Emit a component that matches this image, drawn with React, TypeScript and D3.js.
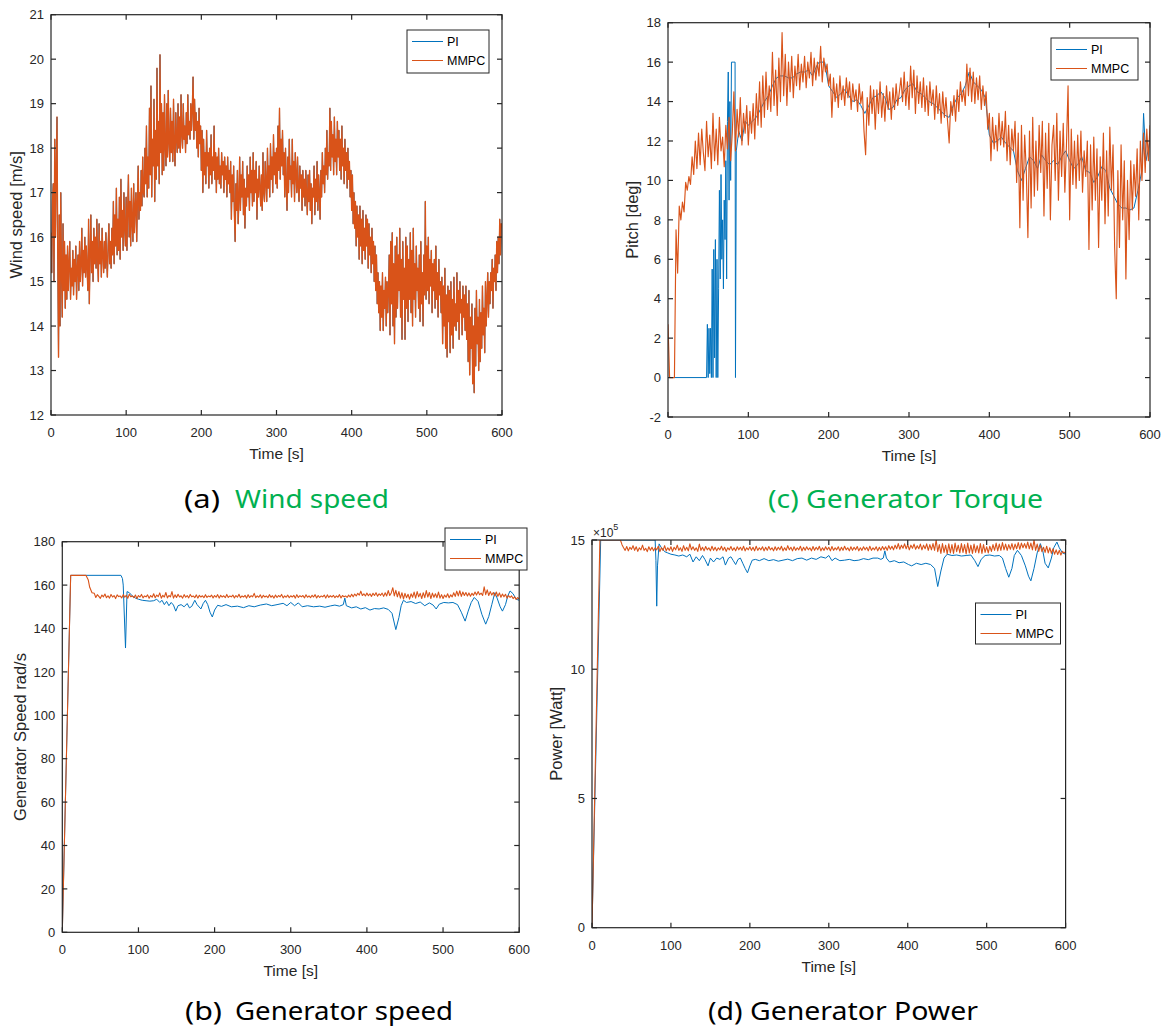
import React from 'react';
import * as d3 from 'd3';

type Pt = [number, number];

const PI_COLOR = '#0072BD';
const MMPC_COLOR = '#D95319';
const AXIS_COLOR = '#262626';
const CAPTION_GREEN = '#00B050';
const FONT = '"Liberation Sans", Arial, Helvetica, sans-serif';
const CAPTION_FONT = '"Noto Sans", "Open Sans", sans-serif';

const timeTicks = [0, 100, 200, 300, 400, 500, 600];
const seriesNames = ['PI', 'MMPC'];

// (a) wind speed [m/s], one sample per second from t = 0 (PI and MMPC coincide)
const windStart = 0;
const windStep = 1;
const windSpeed = [
  16.1, 15.2, 16.8, 17.2, 15.0, 18.2, 16.0, 17.5, 18.7, 15.5,
  13.3, 16.5, 14.0, 17.0, 15.2, 14.2, 16.3, 14.8, 15.9, 14.4,
  15.6, 14.6, 15.8, 14.8, 15.4, 15.9, 14.6, 15.3, 14.9, 15.7,
  14.7, 15.5, 15.0, 15.8, 14.6, 15.3, 15.6, 14.8, 15.9, 15.0,
  15.4, 16.2, 14.9, 15.7, 15.2, 16.0, 15.1, 15.8, 15.3, 14.8,
  16.4, 14.5, 15.6, 16.5, 15.2, 15.9, 15.0, 16.2, 15.4, 16.0,
  15.3, 16.4, 15.5, 15.0, 16.3, 15.4, 15.9, 15.1, 16.2, 15.6,
  15.2, 15.9, 15.3, 16.1, 15.5, 15.1, 15.8, 16.3, 15.4, 15.9,
  15.3, 16.2, 15.6, 16.8, 15.4, 16.5, 15.8, 17.1, 15.6, 16.4,
  15.7, 16.9, 15.5, 17.3, 16.0, 16.6, 15.7, 17.0, 16.2, 15.8,
  16.9, 15.7, 16.6, 17.4, 16.0, 16.8, 15.8, 17.1, 16.3, 15.9,
  17.2, 16.1, 16.7, 17.0, 15.9, 16.8, 17.6, 16.4, 17.0, 16.6,
  17.5, 16.7, 17.8, 17.0, 16.9, 18.0, 17.2, 18.5, 16.9, 17.8,
  17.1, 18.9, 17.4, 19.4, 16.9, 18.2, 17.6, 19.1, 16.8, 18.4,
  17.3, 19.8, 17.6, 18.6, 17.2, 20.1, 17.9, 19.0, 17.4, 18.8,
  17.5, 19.2, 18.0, 17.6, 19.0, 17.8, 19.3, 18.1, 17.7, 18.9,
  17.9, 18.6, 17.7, 19.1, 18.0, 17.6, 18.8, 18.2, 17.9, 19.0,
  18.0, 18.7, 17.9, 19.2, 18.3, 18.0, 19.0, 18.2, 18.5, 17.9,
  18.8, 18.1, 19.2, 18.3, 18.6, 18.2, 19.0, 18.4, 18.9, 19.6,
  18.2, 19.1, 18.4, 18.8, 18.0, 18.6, 17.8, 18.9, 18.1, 18.5,
  17.5, 18.4, 17.0, 18.2, 17.4, 17.9, 17.2, 18.4, 17.6, 17.9,
  17.1, 18.0, 17.4, 18.3, 17.2, 17.8, 17.5, 18.5, 17.3, 17.9,
  17.0, 17.8, 17.3, 18.0, 17.2, 17.6, 17.1, 17.9, 17.4, 17.7,
  17.0, 17.8, 17.3, 17.6, 16.9, 17.8, 17.2, 17.5, 17.0, 17.7,
  16.4, 17.4, 16.8, 17.6, 16.5, 15.9, 17.2, 16.6, 17.5, 16.3,
  16.8, 17.8, 16.6, 17.4, 16.9, 17.7, 16.5, 17.3, 16.2, 17.1,
  16.7, 17.6, 16.9, 17.4, 16.6, 17.8, 17.0, 17.5, 16.7, 17.9,
  16.8, 17.5, 17.0, 17.7, 16.4, 17.3, 16.9, 17.6, 17.1, 16.7,
  17.4, 16.6, 17.9, 17.0, 16.8, 17.7, 17.2, 16.8, 18.0, 17.1,
  17.6, 16.9, 18.1, 17.3, 17.8, 17.0, 18.3, 17.4, 17.9, 17.2,
  18.0, 17.1, 18.5, 17.5, 18.9, 17.3, 18.2, 17.6, 18.4, 17.4,
  17.9, 16.9, 18.0, 17.2, 16.6, 17.8, 17.0, 18.2, 17.3, 17.6,
  16.9, 18.2, 17.2, 17.7, 16.8, 17.9, 17.4, 17.0, 17.8, 17.1,
  16.8, 17.6, 17.1, 17.4, 16.6, 17.5, 16.9, 17.3, 16.7, 17.5,
  17.0, 16.5, 17.4, 16.8, 17.5, 16.6, 17.2, 16.3, 17.1, 16.9,
  17.6, 16.5, 17.3, 16.8, 17.7, 16.6, 17.4, 17.0, 16.4, 17.5,
  16.9, 17.9, 17.2, 17.6, 17.0, 18.0, 17.4, 18.4, 17.3, 17.9,
  17.6, 18.9, 17.5, 18.6, 17.8, 18.3, 17.4, 18.7, 17.7, 18.2,
  17.4, 18.6, 17.8, 18.4, 17.5, 18.2, 17.3, 18.5, 17.6, 18.0,
  17.2, 18.2, 17.5, 17.9, 17.1, 18.0, 17.3, 17.7, 16.9, 17.5,
  16.6, 17.4, 16.3, 17.0, 16.2, 16.8, 15.8, 16.7, 16.0, 16.5,
  15.5, 16.7, 15.8, 16.4, 15.4, 16.6, 15.7, 16.2, 15.5, 16.5,
  15.8, 16.4, 15.3, 16.3, 15.6, 16.0, 15.2, 16.2, 15.4, 15.9,
  15.0, 15.8, 14.8, 15.6, 14.5, 15.2, 14.3, 15.0, 13.9, 14.9,
  14.2, 15.2, 13.9, 14.8, 14.4, 15.1, 14.0, 15.0, 14.3, 14.8,
  15.6, 13.8, 15.9, 14.5, 16.1, 14.0, 15.4, 13.6, 15.8, 14.2,
  16.0, 14.4, 15.6, 14.8, 16.2, 14.2, 15.5, 13.7, 15.9, 14.6,
  15.3, 13.7, 16.0, 14.4, 15.8, 14.1, 15.5, 14.6, 16.1, 14.3,
  15.7, 14.0, 16.2, 14.6, 15.4, 14.2, 15.8, 14.8, 15.3, 14.4,
  15.6, 14.1, 15.9, 14.5, 15.2, 14.0, 15.6, 14.7, 16.8, 14.6,
  15.8, 14.8, 16.0, 14.5, 15.5, 14.9, 15.7, 14.3, 15.4, 14.8,
  15.5, 14.4, 15.8, 14.6, 15.2, 14.2, 15.5, 14.7, 15.0, 14.3,
  15.1, 13.6, 14.9, 14.0, 15.3, 13.5, 14.7, 13.3, 14.9, 14.1,
  14.8, 13.4, 15.0, 13.8, 14.6, 13.5, 15.1, 14.0, 14.5, 13.9,
  15.2, 14.1, 14.8, 13.7, 15.0, 14.3, 14.6, 13.8, 14.9, 14.2,
  14.7, 13.9, 14.9, 13.7, 14.5, 13.2, 14.8, 12.9, 14.2, 13.5,
  14.5, 12.7, 14.0, 12.5, 14.4, 13.1, 14.8, 13.6, 14.2, 13.0,
  14.6, 13.2, 14.3, 13.5, 14.9, 13.8, 14.4, 13.4, 15.0, 14.0,
  14.6, 15.2, 14.2, 15.0, 14.5, 15.2, 14.8, 15.5, 14.4, 15.3,
  15.0, 15.6, 14.8, 15.9, 15.2, 16.0, 15.4, 16.4, 15.6, 16.3,
  16.2,
];

// (c) pitch [deg], MMPC every 2 s
const pitchStart = 0;
const pitchStep = 2;
const pitchMmpc = [
  2.7, 0, 0, 0, 0, 7.5, 5.3, 8.7, 8.0, 8.9,
  8.4, 9.9, 9.5, 10.2, 9.8, 11.2, 10.3, 12.0, 10.6, 12.4,
  10.8, 12.6, 11.4, 10.5, 13.0, 11.2, 12.3, 10.6, 13.4, 11.0,
  12.6, 10.8, 13.2, 11.5, 12.2, 10.7, 12.8, 11.6, 13.2, 11.0,
  12.4, 14.5, 11.5, 13.6, 12.2, 14.2, 11.8, 13.4, 12.4, 13.8,
  11.8, 13.5, 12.4, 13.9, 12.1, 14.4, 12.8, 15.0, 12.7, 15.3,
  13.2, 15.5, 13.6, 14.8, 13.5, 16.5, 13.8, 15.6, 13.3, 16.2,
  14.0, 17.5, 14.3, 16.4, 13.8, 16.0, 14.5, 16.3, 14.2, 15.8,
  14.8, 16.4, 14.6, 15.9, 15.0, 16.3, 14.7, 16.0, 15.2, 16.5,
  14.8, 16.2, 15.1, 16.0, 15.3, 16.8, 15.0, 16.2, 15.5, 15.9,
  14.8, 15.4, 13.2, 15.2, 14.0, 14.9, 13.7, 15.3, 14.1, 14.8,
  13.8, 15.2, 14.2, 15.0, 13.6, 14.9, 14.0, 14.6, 13.5, 14.9,
  13.9, 14.5, 12.5, 11.3, 14.2, 12.8, 14.8, 13.4, 14.6, 12.6,
  14.6, 13.4, 15.0, 13.2, 14.4, 13.0, 14.8, 13.6, 14.5, 13.1,
  14.7, 13.6, 14.9, 13.8, 14.5, 15.2, 14.0, 15.5, 13.8, 15.0,
  13.6, 15.8, 14.2, 15.6, 13.4, 15.3, 13.9, 15.0, 13.7, 15.2,
  13.5, 14.8, 13.3, 15.0, 13.8, 14.6, 13.1, 14.8, 13.4, 14.4,
  12.9, 14.5, 13.2, 14.2, 13.0, 11.9, 14.0, 13.3, 14.3, 13.0,
  14.6, 13.5, 15.0, 14.0, 14.6, 13.8, 15.9, 14.3, 15.7, 14.0,
  15.5, 13.9, 15.2, 14.1, 15.3, 13.6, 14.8, 13.8, 14.5, 12.6,
  13.4, 11.0, 13.2, 11.6, 12.8, 11.5, 13.4, 11.8, 13.0, 11.7,
  13.5, 11.0, 12.8, 10.8, 12.6, 11.5, 13.0, 9.9, 12.4, 7.6,
  12.8, 9.0, 12.3, 10.5, 7.1, 12.5, 8.6, 13.2, 9.2, 12.0,
  9.5, 12.8, 10.4, 13.0, 8.2, 12.4, 9.6, 12.9, 8.0, 11.8,
  12.8, 10.0, 13.4, 9.0, 12.5, 10.2, 12.9, 9.4, 11.8, 14.8,
  8.0, 12.6, 9.8, 12.0, 9.6, 12.3, 10.0, 12.5, 9.4, 11.5,
  10.2, 12.0, 6.5, 11.8, 8.5, 12.2, 9.0, 11.6, 6.6, 11.2,
  9.0, 12.4, 7.8, 11.5, 8.2, 12.7, 9.5, 11.8, 6.6, 4.0,
  10.5, 6.6, 11.8, 8.0, 11.0, 5.0, 10.0, 7.0, 11.0, 8.5,
  10.8, 9.2, 11.6, 8.0, 12.0, 10.0, 12.4, 10.4, 12.6, 11.0,
  12.8,
];

// (c) pitch [deg], PI as [time, value]
const pitchPi: Pt[] = [
  [0, 0], [48, 0], [49, 2.7], [50, 0], [51, 2.5], [52, 0.2], [53, 2.5], [54, 0], [55, 5.5],
  [56, 0], [57, 6.5], [58, 1], [59, 7], [60, 0], [61, 6], [62, 0], [63, 4.5], [64, 9.5],
  [65, 5], [66, 10.3], [67, 6], [68, 8], [69, 4.5], [70, 9], [71, 7], [72, 11], [73, 5],
  [74, 13], [75, 15.5], [76, 9], [77, 14], [78, 10], [79, 16], [82, 16], [83.5, 16], [84, 0],
  [85, 11.5], [88, 12.5], [92, 12], [96, 13], [100, 12.8], [105, 13], [110, 13.2], [115, 13.6],
  [120, 14], [125, 14.3], [130, 14.8], [135, 15.2], [140, 15.3], [145, 15.3], [150, 15.2],
  [155, 15.2], [160, 15.4], [165, 15.5], [170, 15.5], [175, 15.6], [180, 15.3], [185, 15.8],
  [188, 16], [195, 16], [200, 14.8], [205, 14.5], [210, 14.2], [215, 14.4], [220, 14.6],
  [225, 14.3], [230, 14.0], [235, 14.1], [240, 13.8], [245, 13.4], [250, 13.8], [255, 14.2],
  [260, 14.3], [265, 14.5], [270, 14.2], [275, 13.6], [280, 13.7], [285, 14.1], [290, 14.2],
  [295, 14.6], [300, 14.8], [305, 14.9], [310, 14.5], [315, 14.4], [320, 14.2], [325, 14.0],
  [330, 13.9], [335, 13.7], [340, 13.5], [345, 13.3], [350, 13.2], [355, 13.8], [360, 14.2],
  [365, 14.4], [370, 14.8], [375, 15.5], [380, 15.0], [385, 14.8], [390, 14.6], [395, 14.2],
  [400, 12.3], [405, 11.9], [410, 12.0], [415, 12.2], [420, 11.9], [425, 11.7], [430, 11.5],
  [435, 10.5], [440, 10.0], [445, 10.6], [450, 11.2], [455, 11.0], [460, 10.6], [465, 11.3],
  [470, 11.0], [475, 10.8], [480, 11.0], [485, 10.8], [490, 11.2], [495, 11.5], [500, 11.0],
  [505, 10.6], [510, 10.8], [515, 11.2], [520, 10.5], [525, 10.4], [530, 9.9], [535, 10.2],
  [540, 10.7], [545, 10.5], [550, 9.6], [555, 9.2], [560, 8.8], [565, 8.6], [570, 8.6],
  [575, 8.5], [580, 8.6], [585, 9.5], [590, 10.5], [592, 13.4], [595, 11.0], [600, 12.0],
];

// (b) generator speed [rad/s]
const speedPi: Pt[] = [
  [0, 0], [11, 164.5], [77, 164.5], [79, 163], [80, 160], [83, 131], [85, 157], [88, 156.5],
  [92, 155], [96, 154], [100, 153.5], [105, 153], [110, 152.8], [115, 152.6], [120, 152.8],
  [124, 153.5], [128, 152], [131, 153], [134, 151], [137, 152.5], [140, 150.5], [143, 152],
  [146, 150.8], [149, 148], [152, 150.5], [156, 151], [160, 150], [164, 151.5], [167, 149.5],
  [170, 150.2], [174, 153], [177, 151], [182, 149], [185, 151.5], [188, 153], [191, 151],
  [194, 147.5], [197, 145.3], [200, 148.5], [204, 150.7], [209, 150.2], [215, 151], [222, 150],
  [230, 150.3], [238, 149.6], [245, 150.5], [252, 150], [260, 150.8], [268, 151.3], [275, 150.5],
  [282, 151], [290, 151.6], [295, 150.5], [300, 152], [305, 150.5], [310, 151.8], [315, 150],
  [322, 150.5], [330, 150], [338, 150.3], [345, 149.8], [352, 150.4], [358, 150.8], [364, 150.3],
  [369, 151], [371, 154], [373, 150.5], [380, 149.5], [386, 150], [392, 149], [398, 149.6],
  [404, 148.5], [410, 149.2], [416, 149], [422, 149.5], [428, 148.8], [433, 147], [438, 139.5],
  [442, 145], [445, 150.5], [448, 153], [452, 152], [458, 152.4], [464, 151.5], [470, 152.2],
  [476, 150.5], [482, 151.8], [487, 150.8], [491, 149], [495, 151.2], [501, 152], [507, 151.8],
  [513, 152], [519, 151], [524, 147.5], [529, 143.4], [533, 148], [537, 152], [541, 154.3],
  [546, 152.5], [551, 146.5], [556, 142], [560, 145.5], [564, 151], [568, 156.5], [571, 154],
  [575, 150], [578, 148], [582, 151], [585, 155], [588, 157.3], [592, 156], [596, 153.5], [600, 153],
];

const speedMmpcHead: Pt[] = [[0, 0], [11, 164.5], [31, 164.5], [34, 162.5], [36, 159], [39, 156.5]];
const speedMmpcStart = 42;
const speedMmpcStep = 2;
const speedMmpc = [
  156.2, 154.3, 155.6, 154.8, 153.9, 155.4, 154.6, 155.9, 154.2, 155.1,
  154.0, 155.7, 154.5, 155.2, 153.8, 155.5, 154.7, 155.0, 154.1, 155.6,
  154.4, 155.3, 153.9, 155.8, 154.6, 155.0, 154.2, 155.4, 153.8, 155.2,
  154.5, 155.7, 154.1, 155.0, 154.6, 155.5, 153.9, 155.2, 154.4, 156.0,
  154.2, 155.4, 154.7, 156.4, 154.0, 155.3, 154.5, 156.6, 154.1, 155.2,
  154.6, 157.0, 154.0, 155.5, 154.3, 155.8, 154.5, 155.1, 154.0, 155.6,
  154.4, 155.2, 154.1, 155.7, 154.6, 155.0, 154.2, 155.5, 154.0, 155.3,
  154.5, 155.1, 154.2, 155.6, 154.3, 155.0, 154.6, 155.4, 154.1, 155.2,
  154.4, 155.6, 154.0, 155.3, 154.5, 155.1, 154.2, 155.7, 154.3, 155.0,
  154.6, 155.4, 154.1, 155.2, 154.4, 155.8, 154.2, 155.0, 154.5, 155.3,
  154.0, 155.6, 154.3, 155.1, 154.6, 156.2, 154.2, 155.0, 154.4, 155.5,
  154.1, 155.3, 154.5, 155.0, 154.2, 155.6, 154.4, 155.1, 154.0, 155.4,
  154.3, 155.2, 154.6, 155.7, 154.1, 155.0, 154.4, 155.4, 154.2, 155.1,
  154.5, 155.3, 154.0, 155.6, 154.3, 155.1, 154.6, 155.2, 154.1, 155.5,
  154.4, 155.0, 154.2, 155.3, 154.5, 155.6, 154.1, 155.2, 154.3, 155.0,
  154.6, 155.4, 154.0, 155.5, 154.3, 155.1, 154.5, 155.3, 154.2, 155.0,
  154.4, 155.6, 154.1, 155.2, 154.6, 155.0, 154.3, 155.4, 154.5, 155.8,
  154.6, 155.9, 155.0, 156.2, 155.4, 157.2, 155.2, 156.0, 155.0, 156.3,
  155.1, 156.0, 154.8, 156.2, 155.2, 156.5, 154.9, 156.0, 155.3, 156.3,
  154.8, 156.5, 155.0, 157.5, 155.2, 156.4, 158.8, 155.0, 157.6, 154.6,
  157.0, 154.0, 156.5, 153.6, 156.2, 154.2, 155.8, 153.5, 156.0, 154.4,
  156.8, 154.0, 157.0, 154.6, 156.2, 153.8, 156.5, 154.2, 157.5, 154.5,
  156.6, 153.8, 156.3, 154.4, 156.0, 154.2, 156.8, 154.0, 155.6, 153.8,
  155.4, 154.4, 156.0, 154.2, 155.5, 154.6, 156.5, 154.8, 157.2, 155.0,
  157.4, 154.8, 156.8, 155.2, 156.6, 155.0, 156.4, 154.9, 156.2, 155.3,
  156.8, 155.4, 157.0, 155.6, 156.3, 155.2, 159.2, 155.6, 157.8, 155.2,
  157.0, 155.4, 156.6, 155.0, 156.8, 154.8, 156.4, 154.4, 155.9, 154.6,
  155.8, 154.0, 155.2, 154.3, 155.0, 153.8, 154.6, 153.4, 154.2, 153.6,
];

// (d) generator power [x 1e5 W]
const powerPi: Pt[] = [
  [0, 0], [11, 15], [80, 15], [81, 14.2], [82, 12.44], [83, 14.0], [85, 14.85], [88, 14.7],
  [92, 14.55], [96, 14.5], [100, 14.45], [105, 14.42], [110, 14.38], [115, 14.42], [120, 14.35],
  [124, 14.45], [128, 14.15], [132, 14.35], [136, 14.2], [140, 14.4], [143, 14.25], [147, 14.0],
  [150, 14.3], [154, 14.15], [158, 14.3], [162, 14.25], [166, 14.35], [169, 14.03], [173, 14.3],
  [176, 14.35], [179, 14.2], [182, 14.05], [185, 14.25], [188, 14.3], [191, 14.1], [194, 13.9],
  [197, 13.73], [200, 14.0], [203, 14.22], [207, 14.25], [212, 14.2], [218, 14.28], [224, 14.2],
  [230, 14.24], [236, 14.18], [242, 14.22], [248, 14.26], [254, 14.2], [260, 14.28], [266, 14.3],
  [272, 14.22], [278, 14.3], [284, 14.25], [290, 14.35], [296, 14.3], [300, 14.4], [304, 14.2],
  [308, 14.3], [314, 14.2], [320, 14.22], [326, 14.25], [332, 14.2], [338, 14.22], [344, 14.28],
  [350, 14.24], [356, 14.3], [362, 14.3], [366, 14.25], [369, 14.3], [371, 14.58], [373, 14.3],
  [377, 14.15], [383, 14.2], [389, 14.12], [395, 14.15], [401, 14.05], [405, 14.0], [411, 14.1],
  [417, 14.05], [423, 14.1], [429, 14.05], [434, 13.9], [438, 13.2], [442, 13.8], [446, 14.3],
  [450, 14.45], [456, 14.4], [462, 14.42], [468, 14.38], [474, 14.4], [480, 14.42], [485, 14.2],
  [489, 13.97], [493, 14.25], [498, 14.4], [504, 14.42], [510, 14.38], [516, 14.4], [520, 14.3],
  [524, 13.9], [528, 13.56], [532, 13.9], [535, 14.4], [539, 14.6], [544, 14.4], [549, 14.0],
  [553, 13.6], [556, 13.42], [560, 13.9], [564, 14.5], [568, 14.86], [571, 14.6], [574, 14.1],
  [578, 13.92], [582, 14.3], [585, 14.7], [589, 14.92], [592, 14.7], [596, 14.5], [600, 14.45],
];

const powerMmpcHead: Pt[] = [[0, 0], [10, 15], [35, 15]];
const powerMmpcStart = 36;
const powerMmpcStep = 2;
const powerMmpc = [
  15.0, 14.82, 14.7, 14.6, 14.75, 14.58, 14.72, 14.64, 14.78, 14.6,
  14.74, 14.56, 14.7, 14.62, 14.8, 14.6, 14.68, 14.55, 14.74, 14.6,
  14.72, 14.58, 14.7, 14.62, 14.76, 14.55, 14.7, 14.6, 14.78, 14.58,
  14.7, 14.6, 14.74, 14.56, 14.72, 14.62, 14.8, 14.6, 14.7, 14.56,
  14.78, 14.6, 14.72, 14.58, 14.85, 14.62, 14.74, 14.6, 14.7, 14.56,
  14.84, 14.6, 14.72, 14.58, 14.75, 14.62, 14.7, 14.58, 14.76, 14.6,
  14.72, 14.58, 14.7, 14.62, 14.76, 14.6, 14.72, 14.56, 14.7, 14.62,
  14.75, 14.6, 14.7, 14.58, 14.74, 14.62, 14.72, 14.6, 14.76, 14.58,
  14.7, 14.62, 14.74, 14.6, 14.72, 14.58, 14.76, 14.6, 14.7, 14.62,
  14.74, 14.58, 14.72, 14.6, 14.75, 14.62, 14.7, 14.58, 14.74, 14.6,
  14.72, 14.62, 14.76, 14.58, 14.7, 14.6, 14.78, 14.62, 14.72, 14.58,
  14.74, 14.6, 14.7, 14.62, 14.76, 14.58, 14.72, 14.6, 14.74, 14.62,
  14.7, 14.58, 14.75, 14.6, 14.72, 14.62, 14.76, 14.58, 14.7, 14.6,
  14.74, 14.62, 14.72, 14.58, 14.75, 14.6, 14.7, 14.62, 14.74, 14.58,
  14.72, 14.6, 14.76, 14.62, 14.7, 14.58, 14.74, 14.6, 14.72, 14.62,
  14.75, 14.58, 14.7, 14.6, 14.74, 14.62, 14.72, 14.58, 14.76, 14.6,
  14.7, 14.62, 14.74, 14.58, 14.72, 14.6, 14.75, 14.62, 14.74, 14.6,
  14.78, 14.64, 14.76, 14.62, 14.8, 14.66, 14.86, 14.64, 14.8, 14.68,
  14.85, 14.66, 14.82, 14.62, 14.8, 14.68, 14.84, 14.64, 14.78, 14.66,
  14.84, 14.62, 14.8, 14.66, 14.85, 14.6, 14.82, 14.62, 14.86, 14.6,
  15.0, 14.55, 14.82, 14.48, 14.86, 14.52, 14.8, 14.46, 14.85, 14.5,
  14.82, 14.48, 14.88, 14.55, 14.8, 14.5, 14.86, 14.52, 14.82, 14.46,
  14.88, 14.5, 14.8, 14.48, 14.84, 14.52, 14.78, 14.5, 14.86, 14.48,
  14.82, 14.52, 14.74, 14.5, 14.76, 14.56, 14.82, 14.6, 14.88, 14.58,
  14.84, 14.6, 14.9, 14.62, 14.84, 14.6, 14.82, 14.64, 14.86, 14.62,
  14.84, 14.66, 14.9, 14.64, 14.88, 14.7, 14.86, 14.68, 14.92, 14.66,
  14.88, 14.62, 15.0, 14.6, 14.84, 14.56, 14.8, 14.55, 14.72, 14.52,
  14.76, 14.5, 14.7, 14.48, 14.66, 14.45, 14.62, 14.44, 14.6, 14.42,
  14.56, 14.5, 14.55,
];

const onGrid = (start: number, step: number, values: number[]): Pt[] =>
  values.map((v, i) => [start + i * step, v] as Pt);

interface PanelCfg {
  id: string;
  left: number;
  right: number;
  top: number;
  bottom: number;
  yDomain: [number, number];
  yTicks: number[];
  yLabel: string;
  yLabelX: number;
  legend: { x: number; y: number; w: number; h: number };
  exponent?: boolean;
  mmpcWidth: number;
  pi: Pt[];
  mmpc: Pt[];
}

const panels: PanelCfg[] = [
  {
    id: 'wind',
    left: 51, right: 502, top: 14.7, bottom: 415,
    yDomain: [12, 21],
    yTicks: [12, 13, 14, 15, 16, 17, 18, 19, 20, 21],
    yLabel: 'Wind speed [m/s]', yLabelX: 16.5,
    legend: { x: 407, y: 30, w: 82, h: 43 },
    mmpcWidth: 1.35,
    pi: onGrid(windStart, windStep, windSpeed),
    mmpc: onGrid(windStart, windStep, windSpeed),
  },
  {
    id: 'pitch',
    left: 668, right: 1150, top: 22.7, bottom: 417,
    yDomain: [-2, 18],
    yTicks: [-2, 0, 2, 4, 6, 8, 10, 12, 14, 16, 18],
    yLabel: 'Pitch [deg]', yLabelX: 632.5,
    legend: { x: 1051, y: 38, w: 87, h: 42 },
    mmpcWidth: 1.15,
    pi: pitchPi,
    mmpc: onGrid(pitchStart, pitchStep, pitchMmpc),
  },
  {
    id: 'speed',
    left: 62.3, right: 519.2, top: 541.7, bottom: 932.3,
    yDomain: [0, 180],
    yTicks: [0, 20, 40, 60, 80, 100, 120, 140, 160, 180],
    yLabel: 'Generator Speed rad/s', yLabelX: 20,
    legend: { x: 445, y: 528, w: 82, h: 42 },
    mmpcWidth: 1.1,
    pi: speedPi,
    mmpc: speedMmpcHead.concat(onGrid(speedMmpcStart, speedMmpcStep, speedMmpc)),
  },
  {
    id: 'power',
    left: 592, right: 1065.6, top: 540, bottom: 927.7,
    yDomain: [0, 15],
    yTicks: [0, 5, 10, 15],
    yLabel: 'Power [Watt]', yLabelX: 556,
    legend: { x: 975.5, y: 603, w: 85, h: 41 },
    exponent: true,
    mmpcWidth: 1.1,
    pi: powerPi,
    mmpc: powerMmpcHead.concat(onGrid(powerMmpcStart, powerMmpcStep, powerMmpc)),
  },
];

const TICK = 5;

function Panel({ cfg }: { cfg: PanelCfg }) {
  const x = d3.scaleLinear().domain([0, 600]).range([cfg.left, cfg.right]);
  const y = d3.scaleLinear().domain(cfg.yDomain).range([cfg.bottom, cfg.top]);
  const line = d3.line<Pt>().x((d) => x(d[0])).y((d) => y(d[1]));
  const w = cfg.right - cfg.left;
  const h = cfg.bottom - cfg.top;
  const lg = cfg.legend;
  const colors = [PI_COLOR, MMPC_COLOR];

  return (
    <g>
      <defs>
        <clipPath id={`clip-${cfg.id}`}>
          <rect x={cfg.left} y={cfg.top} width={w} height={h} />
        </clipPath>
      </defs>
      <rect x={cfg.left} y={cfg.top} width={w} height={h} fill="#fff" />
      <g clipPath={`url(#clip-${cfg.id})`} fill="none" strokeLinejoin="round">
        <path d={line(cfg.pi) || ''} stroke={PI_COLOR} strokeWidth={1} />
        <path d={line(cfg.mmpc) || ''} stroke={MMPC_COLOR} strokeWidth={cfg.mmpcWidth} />
      </g>

      {/* box and inward ticks on all four sides */}
      <rect x={cfg.left} y={cfg.top} width={w} height={h} fill="none" stroke={AXIS_COLOR} strokeWidth={1.2} />
      <g stroke={AXIS_COLOR} strokeWidth={1.2}>
        {timeTicks.map((t) => (
          <g key={`xt${t}`}>
            <line x1={x(t)} x2={x(t)} y1={cfg.bottom} y2={cfg.bottom - TICK} />
            <line x1={x(t)} x2={x(t)} y1={cfg.top} y2={cfg.top + TICK} />
          </g>
        ))}
        {cfg.yTicks.map((v) => (
          <g key={`yt${v}`}>
            <line x1={cfg.left} x2={cfg.left + TICK} y1={y(v)} y2={y(v)} />
            <line x1={cfg.right} x2={cfg.right - TICK} y1={y(v)} y2={y(v)} />
          </g>
        ))}
      </g>

      <g fontFamily={FONT} fontSize={13} fill={AXIS_COLOR}>
        {timeTicks.map((t) => (
          <text key={`xl${t}`} x={x(t)} y={cfg.bottom + 22} textAnchor="middle">
            {t}
          </text>
        ))}
        {cfg.yTicks.map((v) => (
          <text key={`yl${v}`} x={cfg.left - 7} y={y(v)} dy="0.36em" textAnchor="end">
            {String(v)}
          </text>
        ))}
        {cfg.exponent && (
          <text x={cfg.left + 1} y={cfg.top - 3} fontSize={12}>
            ×10
            <tspan fontSize={9} dy={-7}>5</tspan>
          </text>
        )}
      </g>

      <text
        x={(cfg.left + cfg.right) / 2}
        y={cfg.bottom + 44}
        textAnchor="middle"
        fontFamily={FONT}
        fontSize={15.5}
        fill={AXIS_COLOR}
      >
        Time [s]
      </text>
      <text
        transform={`translate(${cfg.yLabelX},${(cfg.top + cfg.bottom) / 2}) rotate(-90)`}
        textAnchor="middle"
        dy="0.36em"
        fontFamily={FONT}
        fontSize={16.5}
        fill={AXIS_COLOR}
      >
        {cfg.yLabel}
      </text>

      {/* legend */}
      <rect x={lg.x} y={lg.y} width={lg.w} height={lg.h} fill="#fff" stroke={AXIS_COLOR} strokeWidth={1} />
      {seriesNames.map((name, i) => {
        const ly = lg.y + (i === 0 ? 11.5 : 30.5);
        return (
          <g key={name}>
            <line x1={lg.x + 5} x2={lg.x + 36} y1={ly} y2={ly} stroke={colors[i]} strokeWidth={1} />
            <text x={lg.x + 40} y={ly} dy="0.36em" fontFamily={FONT} fontSize={12.5} fill="#000">
              {name}
            </text>
          </g>
        );
      })}
    </g>
  );
}

function Caption({ x, y, parts }: { x: number; y: number; parts: { text: string; color: string; dx: number; width: number }[] }) {
  return (
    <g fontFamily={CAPTION_FONT} fontSize={25}>
      {parts.map((p) => (
        <text
          key={p.text}
          x={x + p.dx}
          y={y}
          fill={p.color}
          textLength={p.width}
          lengthAdjust="spacingAndGlyphs"
        >
          {p.text}
        </text>
      ))}
    </g>
  );
}

export default function App() {
  return (
    <div style={{ position: 'absolute', left: 0, top: 0 }}>
      <svg width={1165} height={1028} viewBox="0 0 1165 1028" style={{ display: 'block', background: '#fff' }}>
        <rect width={1165} height={1028} fill="#fff" />
        {panels.map((p) => (
          <Panel key={p.id} cfg={p} />
        ))}
        <Caption
          x={184}
          y={508}
          parts={[
            { text: '(a)', color: '#000', dx: 0, width: 36 },
            { text: 'Wind speed', color: CAPTION_GREEN, dx: 51, width: 154 },
          ]}
        />
        <Caption x={768} y={508} parts={[{ text: '(c) Generator Torque', color: CAPTION_GREEN, dx: 0, width: 275 }]} />
        <Caption
          x={185}
          y={1020}
          parts={[
            { text: '(b)', color: '#000', dx: 0, width: 37 },
            { text: 'Generator speed', color: '#000', dx: 50, width: 218 },
          ]}
        />
        <Caption x={708} y={1020} parts={[{ text: '(d) Generator Power', color: '#000', dx: 0, width: 270 }]} />
      </svg>
    </div>
  );
}
